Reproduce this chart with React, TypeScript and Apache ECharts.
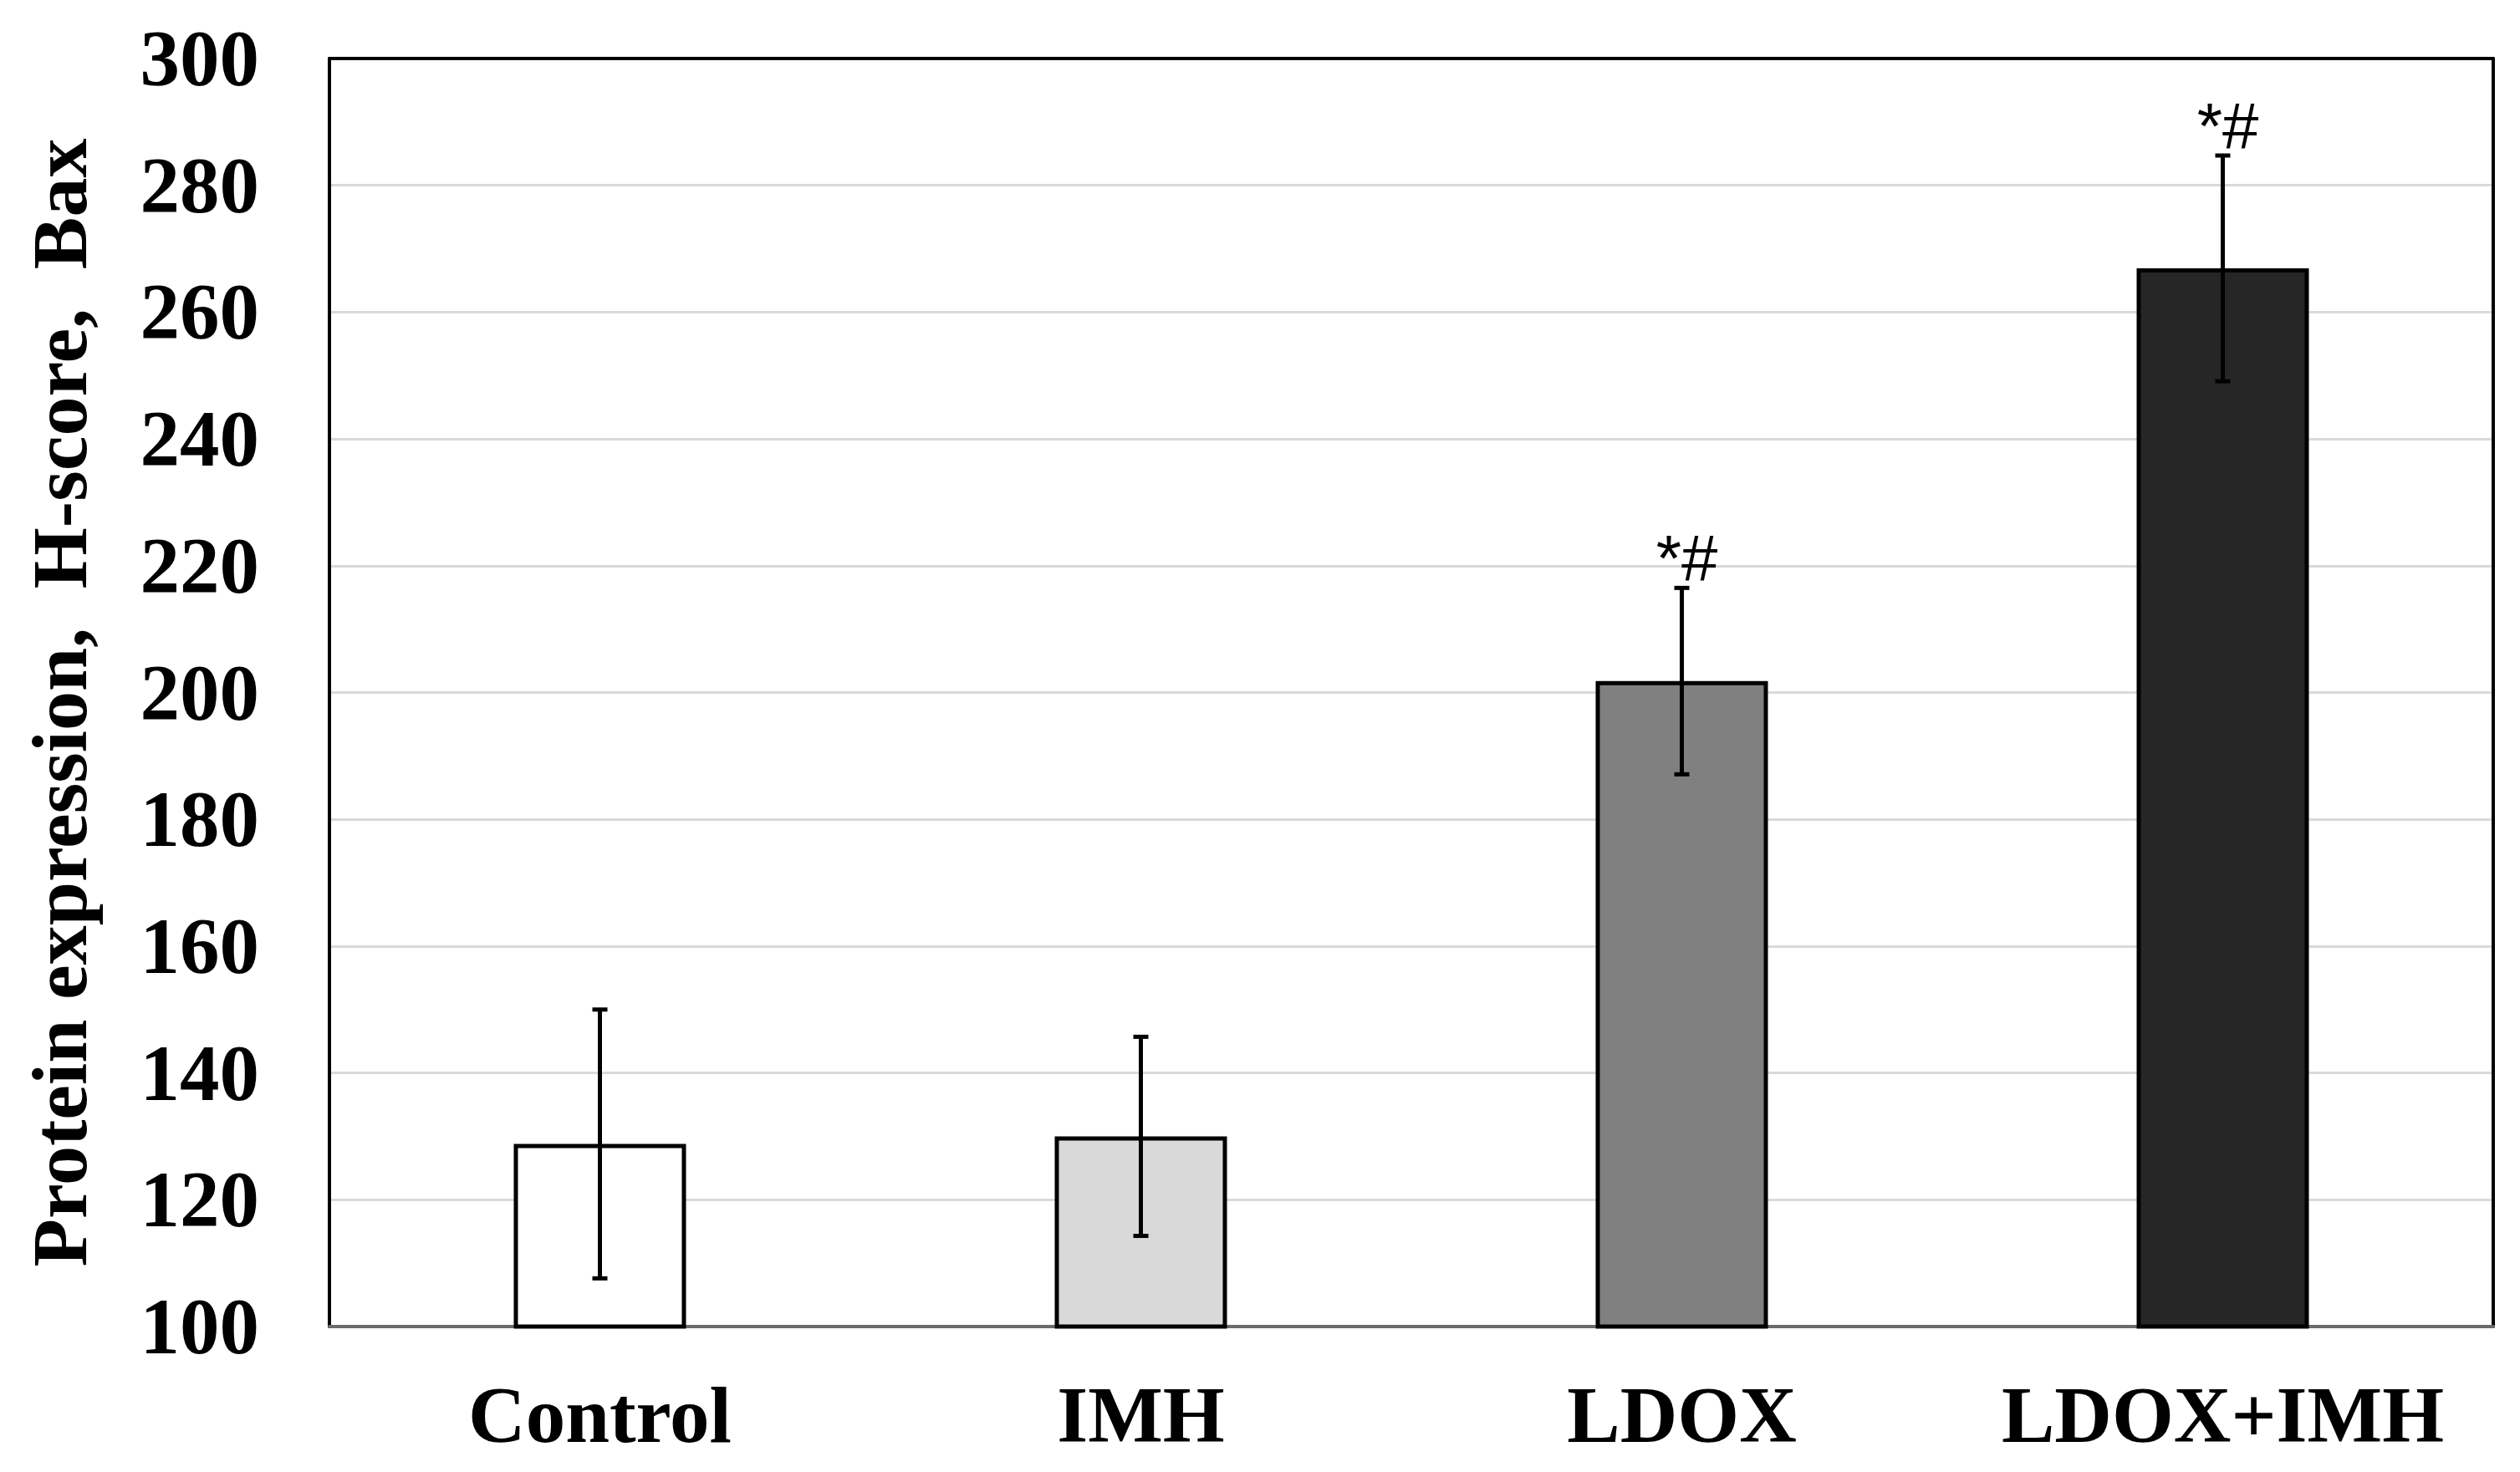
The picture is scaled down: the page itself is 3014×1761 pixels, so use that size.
import React, { useEffect, useRef } from "react";
import * as echarts from "echarts";

const categories = ["Control", "IMH", "LDOX", "LDOX+IMH"];
const means = [128.8, 130.0, 201.8, 266.9];
const errors = [21.2, 15.7, 14.7, 17.8];
const annotations = ["", "", "*#", "*#"];
const barColors = ["#ffffff", "#d9d9d9", "#808080", "#262626"];
const yTicks = { min: 100, max: 300, interval: 20 };
const yTitle = "Protein expression,  H-score,  Bax";

const serif = '"Liberation Serif", "Times New Roman", serif';
const sans = '"Liberation Sans", Arial, sans-serif';

export default function App() {
  const ref = useRef<HTMLDivElement>(null);
  useEffect(() => {
    if (!ref.current) return;
    const chart = echarts.init(ref.current, undefined, { renderer: "svg" });
    const option: any = {
      animation: false,
      backgroundColor: "#ffffff",
      grid: {
        left: 394,
        right: 32,
        top: 70,
        bottom: 174,
        containLabel: false,
        outerBoundsMode: "none",
      },
      xAxis: [
        {
          type: "category",
          data: categories,
          position: "bottom",
          axisLine: { show: true, lineStyle: { color: "#6b6b6b", width: 4 } },
          axisTick: { show: false },
          axisLabel: {
            interval: 0,
            margin: 58,
            color: "#000",
            fontFamily: serif,
            fontWeight: "bold",
            fontSize: 95,
          },
          splitLine: { show: false },
        },
        {
          type: "category",
          data: categories,
          position: "top",
          axisLine: { show: true, lineStyle: { color: "#000", width: 4 } },
          axisTick: { show: false },
          axisLabel: { show: false },
        },
      ],
      yAxis: [
        {
          type: "value",
          min: yTicks.min,
          max: yTicks.max,
          interval: yTicks.interval,
          name: yTitle,
          nameLocation: "middle",
          nameGap: 276,
          nameTextStyle: {
            color: "#000",
            fontFamily: serif,
            fontWeight: "bold",
            fontSize: 94,
            padding: [0, 24, 0, 0],
          },
          axisLine: { show: true, lineStyle: { color: "#000", width: 4 } },
          axisTick: { show: false },
          axisLabel: {
            margin: 84,
            color: "#000",
            fontFamily: serif,
            fontWeight: "bold",
            fontSize: 95,
          },
          splitLine: { show: true, lineStyle: { color: "#d9d9d9", width: 3 } },
        },
        {
          type: "value",
          min: yTicks.min,
          max: yTicks.max,
          interval: yTicks.interval,
          position: "right",
          axisLine: { show: true, lineStyle: { color: "#000", width: 4 } },
          axisTick: { show: false },
          axisLabel: { show: false },
          splitLine: { show: false },
        },
      ],
      series: [
        {
          type: "bar",
          barWidth: 206,
          z: 3,
          data: means.map((v, i) => ({
            value: v,
            itemStyle: { color: barColors[i], borderColor: "#000", borderWidth: 5 },
          })),
        },
        {
          type: "custom",
          z: 5,
          data: categories.map((_, i) => [i, means[i], errors[i]]),
          encode: { x: 0, y: 1 },
          renderItem: (params: any, api: any) => {
            const i = api.value(0);
            const v = api.value(1);
            const e = api.value(2);
            const top = api.coord([i, v + e]);
            const bot = api.coord([i, v - e]);
            const cap = 9;
            const st = { stroke: "#000", lineWidth: 5 };
            const children: any[] = [
              { type: "line", shape: { x1: top[0], y1: top[1], x2: bot[0], y2: bot[1] }, style: st },
              { type: "line", shape: { x1: top[0] - cap, y1: top[1], x2: top[0] + cap, y2: top[1] }, style: st },
              { type: "line", shape: { x1: bot[0] - cap, y1: bot[1], x2: bot[0] + cap, y2: bot[1] }, style: st },
            ];
            const a = annotations[params.dataIndex];
            if (a) {
              children.push({
                type: "text",
                x: top[0] + 6,
                y: top[1] - 35,
                style: {
                  text: a,
                  fill: "#000",
                  font: `78px ${sans}`,
                  align: "center",
                  verticalAlign: "middle",
                },
              });
            }
            return { type: "group", children };
          },
        },
      ],
    };
    chart.setOption(option);
    return () => chart.dispose();
  }, []);
  return (
    <div
      ref={ref}
      style={{ position: "fixed", left: 0, top: 0, width: 3014, height: 1761, background: "#fff" }}
    />
  );
}
